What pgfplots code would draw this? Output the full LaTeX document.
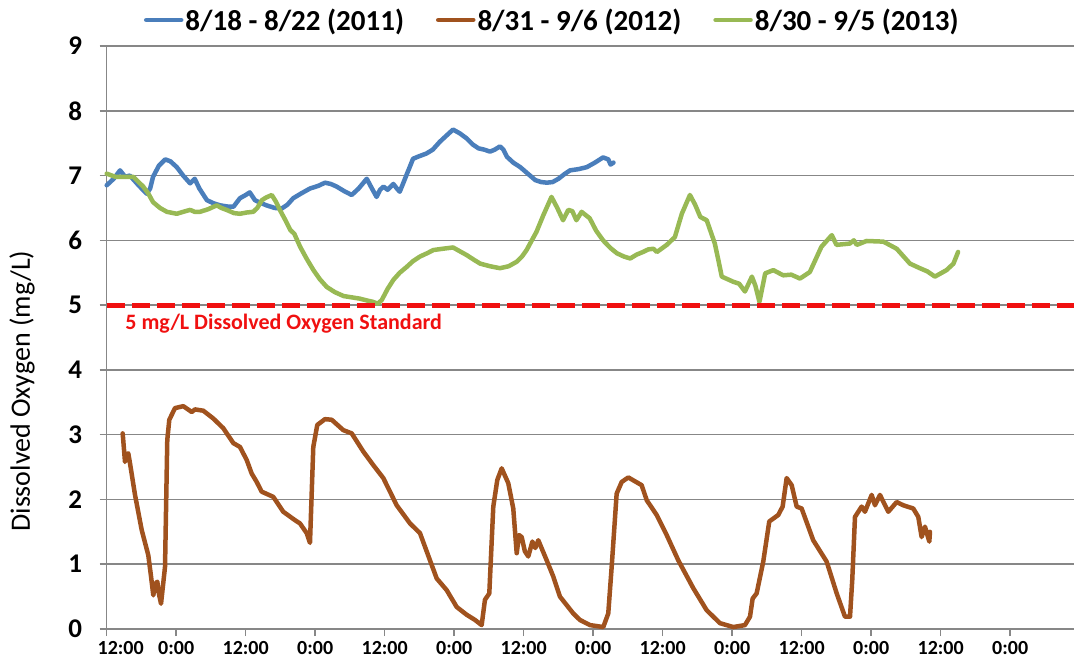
\documentclass[border=0pt]{standalone}
\usepackage{fontspec}
\setmainfont{Carlito}
\usepackage{pgfplots}
\pgfplotsset{compat=1.18}
\definecolor{s11}{HTML}{4A7EBB}
\definecolor{s12}{HTML}{A0521E}
\definecolor{s13}{HTML}{98B954}
\definecolor{gridgray}{HTML}{878787}
\definecolor{stdred}{HTML}{F01010}

\begin{document}
\begin{tikzpicture}
\useasboundingbox (0,0) rectangle (1074pt,667pt);
\begin{axis}[
  at={(106.7pt,38pt)}, anchor=south west,
  scale only axis, width=973pt, height=583pt,
  xmin=0, xmax=168, ymin=0, ymax=9,
  clip=false,
  axis x line*=bottom, axis y line*=left,
  axis line style={gridgray, line width=1.5pt},
  ymajorgrids, major grid style={gridgray, line width=1.5pt},
  tick style={gridgray, line width=1.5pt}, major tick length=7pt, tick align=outside,
  xtick={0,12,...,156},
  xticklabels={\hspace*{28pt}12:00,0:00,12:00,0:00,12:00,0:00,12:00,0:00,12:00,0:00,12:00,0:00,12:00,0:00},
  xticklabel style={font=\bfseries\fontsize{20}{20}\selectfont, yshift=-2pt},
  ytick={0,1,...,9},
  /pgf/number format/assume math mode=true,
  yticklabel style={font=\bfseries\fontsize{27}{27}\selectfont, xshift=-14pt},
  ylabel={Dissolved Oxygen (mg/L)},
  ylabel style={font=\fontsize{28}{28}\selectfont, at={(axis description cs:-0.087,0.408)}, anchor=center},
  legend style={at={(0.458,1.0446)}, anchor=center, draw=none, fill=none,
    legend columns=3, font=\bfseries\fontsize{29}{29}\selectfont,
    /tikz/every even column/.append style={column sep=30pt}},
  legend image code/.code={\draw[#1] (0pt,0pt) -- (35pt,0pt);},
  every axis plot/.append style={line width=4.5pt, line join=round, line cap=round},
]
% 8/18 - 8/22 (2011), hours after 12:00
\addplot[s11] coordinates {
(0,6.85) (1.2,6.95) (2.3,7.08) (3.2,6.98) (4.0,7.0) (5.5,6.85) (6.9,6.72) (7.5,6.80)
(8.0,6.98) (9.0,7.15) (10.1,7.25) (11.0,7.22) (12.1,7.13) (13.2,7.0) (14.0,6.92) (14.4,6.88)
(15.2,6.95) (16.0,6.80) (17.3,6.62) (18.5,6.57) (19.6,6.54) (21.0,6.52) (21.9,6.52) (23.0,6.65)
(24.0,6.70) (24.7,6.74) (25.6,6.62) (26.5,6.58) (27.6,6.54) (29.0,6.50) (30.2,6.49) (31.2,6.55)
(32.2,6.65) (33.5,6.72) (35.1,6.80) (36.5,6.84) (37.7,6.89) (38.7,6.87) (39.7,6.83) (41.0,6.76)
(42.3,6.70) (43.5,6.80) (44.9,6.95) (45.8,6.80) (46.6,6.67) (47.2,6.78) (47.8,6.83) (48.5,6.78)
(49.5,6.87) (50.1,6.80) (50.6,6.75) (51.5,6.95) (52.9,7.26) (54.0,7.30) (55.2,7.34) (56.3,7.40)
(57.5,7.52) (58.7,7.62) (59.8,7.71) (61.0,7.65) (62.2,7.57) (63.2,7.48) (64.2,7.42) (65.2,7.40)
(66.2,7.37) (67.0,7.40) (67.9,7.45) (68.5,7.40) (69.1,7.29) (70.2,7.20) (71.4,7.13) (72.7,7.03)
(74.0,6.93) (75.0,6.90) (76.0,6.89) (77.0,6.90) (78.0,6.95) (79.0,7.02) (80.0,7.08) (81.5,7.10)
(82.9,7.13) (84.3,7.20) (85.7,7.28) (86.6,7.25) (87.0,7.17) (87.5,7.20)
};
\addlegendentry{8/18 - 8/22 (2011)}
% 8/31 - 9/6 (2012)
\addplot[s12] coordinates {
(2.76,3.02) (3.16,2.58) (3.45,2.70) (3.73,2.71) (4.02,2.56) (4.89,2.07) (6.04,1.53) (7.18,1.14)
(7.6,0.85) (8.05,0.52) (8.4,0.70) (8.74,0.73) (9.0,0.55) (9.38,0.39) (10.07,0.96) (10.46,2.92)
(10.81,3.23) (11.79,3.41) (13.23,3.44) (14.68,3.35) (15.25,3.39) (16.68,3.37) (18.40,3.25) (20.13,3.10)
(21.86,2.87) (23.01,2.81) (24.17,2.61) (25.03,2.40) (25.90,2.27) (26.76,2.12) (28.76,2.04) (30.49,1.81)
(32.51,1.68) (33.37,1.63) (34.53,1.48) (35.10,1.33) (35.67,2.81) (36.36,3.15) (37.69,3.24) (38.85,3.23)
(40.85,3.07) (42.30,3.02) (44.30,2.74) (46.03,2.53) (47.76,2.33) (50.07,1.91) (52.37,1.63) (54.09,1.48)
(55.82,1.06) (56.98,0.78) (58.70,0.60) (60.43,0.34) (62.15,0.22) (63.59,0.14) (64.74,0.06) (65.31,0.45)
(66.06,0.55) (66.75,1.89) (67.44,2.30) (68.20,2.48) (69.34,2.25) (70.20,1.86) (70.79,1.17) (71.2,1.45)
(71.65,1.42) (72.2,1.20) (72.79,1.12) (73.5,1.35) (74.0,1.25) (74.52,1.37) (75.97,1.06) (77.11,0.81)
(78.26,0.50) (80.56,0.24) (81.7,0.14) (83.46,0.06) (85.74,0.03) (86.60,0.24) (87.19,0.96) (88.05,2.09)
(88.92,2.27) (90.06,2.34) (92.37,2.22) (93.23,1.99) (94.96,1.76) (96.69,1.45) (98.69,1.06) (101.28,0.63)
(103.59,0.29) (105.89,0.09) (108.18,0.03) (110.2,0.06) (111.07,0.19) (111.53,0.47) (112.22,0.55) (113.36,1.04)
(114.40,1.66) (115.95,1.76) (116.71,1.89) (117.40,2.33) (118.27,2.22) (119.13,1.89) (119.99,1.86) (121.99,1.37)
(124.31,1.04) (126.04,0.55) (127.47,0.19) (128.34,0.19) (128.73,0.76) (129.20,1.73) (130.35,1.89) (130.92,1.81)
(132.08,2.07) (132.65,1.91) (133.51,2.07) (134.95,1.81) (136.40,1.96) (137.54,1.91) (139.26,1.86) (140.13,1.73)
(140.71,1.42) (141.28,1.58) (142.03,1.35) (142.15,1.50)
};
\addlegendentry{8/31 - 9/6 (2012)}
% 8/30 - 9/5 (2013)
\addplot[s13] coordinates {
(0,7.03) (1.5,6.98) (2.9,6.98) (4.6,6.98) (5.5,6.90) (6.3,6.83) (7.2,6.72) (8.0,6.59)
(9.2,6.50) (10.4,6.44) (12.1,6.41) (13.2,6.44) (14.4,6.47) (15.2,6.44) (16.1,6.44) (17.5,6.48)
(19.0,6.54) (19.8,6.50) (20.7,6.47) (22.0,6.42) (23.0,6.41) (24.2,6.43) (25.3,6.44) (26.0,6.50)
(26.8,6.62) (27.5,6.66) (28.5,6.70) (29.2,6.60) (29.9,6.47) (30.8,6.32) (31.7,6.16) (32.4,6.10)
(33.4,5.90) (34.5,5.72) (35.7,5.54) (36.8,5.40) (38.0,5.28) (39.4,5.20) (40.9,5.14) (42.3,5.12)
(43.7,5.10) (45.0,5.07) (46.0,5.05) (46.8,5.02) (47.5,5.08) (48.5,5.25) (49.5,5.39) (50.6,5.50)
(51.8,5.59) (52.9,5.68) (54.1,5.75) (55.3,5.80) (56.4,5.85) (58.0,5.87) (59.8,5.89) (61.0,5.83)
(62.2,5.77) (63.4,5.70) (64.5,5.64) (66.2,5.60) (67.9,5.57) (69.4,5.60) (70.8,5.67) (71.7,5.75)
(72.5,5.85) (73.4,6.00) (74.2,6.13) (75.4,6.39) (76.8,6.67) (77.8,6.50) (78.8,6.31) (79.7,6.47)
(80.4,6.45) (81.1,6.31) (82.0,6.44) (83.4,6.34) (84.5,6.15) (85.7,6.00) (87.0,5.88) (88.1,5.80)
(89.3,5.75) (90.4,5.72) (91.5,5.78) (92.6,5.82) (93.5,5.86) (94.4,5.87) (95.0,5.82) (96.7,5.93)
(98.1,6.05) (99.3,6.41) (100.7,6.70) (101.6,6.55) (102.5,6.36) (103.6,6.31) (105.0,5.95) (105.6,5.70)
(106.2,5.44) (108.2,5.36) (109.2,5.33) (110.2,5.21) (111.4,5.44) (112.0,5.30) (112.7,5.05) (113.7,5.49)
(115.1,5.54) (116.8,5.46) (118.2,5.47) (119.7,5.41) (121.4,5.51) (123.4,5.90) (125.2,6.08) (126.0,5.93)
(128.3,5.95) (129.0,6.00) (129.5,5.93) (131.2,5.99) (134.1,5.98) (136.4,5.87) (138.7,5.64) (140.4,5.57)
(141.7,5.52) (143.0,5.44) (145.0,5.54) (146.2,5.64) (147.0,5.82)
};
\addlegendentry{8/30 - 9/5 (2013)}
% 5 mg/L standard
\addplot[stdred, line width=5pt, line cap=butt, dash pattern=on 18pt off 7pt, forget plot] coordinates {(0,5) (168,5)};
\node[anchor=west, text=stdred, font=\bfseries\fontsize{22}{22}\selectfont, inner sep=0pt]
  at (axis cs:3.2,4.72) {5 mg/L Dissolved Oxygen Standard};
\end{axis}
\end{tikzpicture}
\end{document}
